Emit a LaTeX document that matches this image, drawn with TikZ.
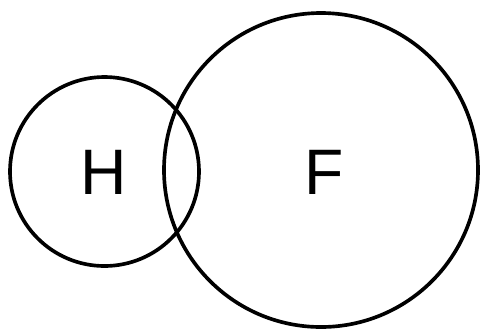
\documentclass[tikz,border=0pt]{standalone}
\usepackage{fontspec}
\setmainfont{Liberation Sans}

\begin{document}
\begin{tikzpicture}[x=0.025cm,y=-0.025cm,
  insieme/.style={circle,draw=black,line width=2.6pt,inner sep=0pt},
  etichetta/.style={font=\fontsize{45.7}{50}\selectfont,inner sep=0pt}]
  \useasboundingbox (0,0) rectangle (480,332);
  % Due insiemi che si sovrappongono appena.
  \node[insieme,minimum size=189*0.025cm] (piccolo) at (104.5,171.5) {};
  \node[insieme,minimum size=314*0.025cm] (grande) at (321,170) {};
  \node[etichetta] (lettH) at (103.5,172) {H};
  \node[etichetta] (lettF) at (324.5,172) {F};
\end{tikzpicture}
\end{document}
